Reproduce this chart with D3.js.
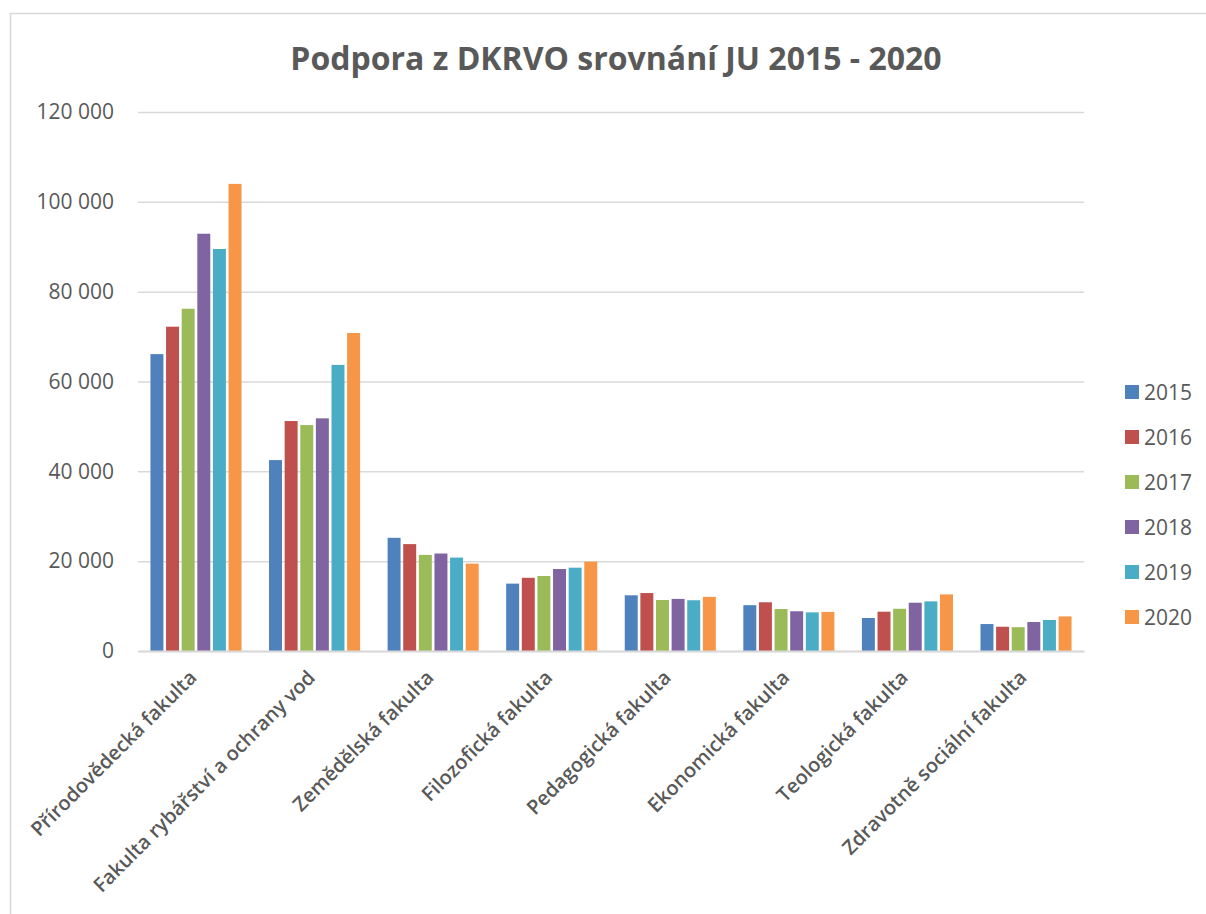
<!DOCTYPE html>
<html>
<head>
<meta charset="utf-8">
<script src="https://cdn.jsdelivr.net/npm/d3@7"></script>
<style>
  html, body { margin: 0; padding: 0; background: #ffffff; }
  svg { display: block; font-family: "Open Sans", "Noto Sans", sans-serif; }
</style>
</head>
<body>
<svg id="chart" width="1206" height="914"></svg>
<script>
const categories = [
  "Přírodovědecká fakulta",
  "Fakulta rybářství a ochrany vod",
  "Zemědělská fakulta",
  "Filozofická fakulta",
  "Pedagogická fakulta",
  "Ekonomická fakulta",
  "Teologická fakulta",
  "Zdravotně sociální fakulta"
];
const years = ["2015", "2016", "2017", "2018", "2019", "2020"];
const values2015 = [66100, 42500, 25200, 15000, 12400, 10200, 7350, 6000];
const values2016 = [72200, 51200, 23800, 16300, 12900, 10850, 8750, 5400];
const values2017 = [76200, 50300, 21400, 16700, 11350, 9350, 9400, 5300];
const values2018 = [92900, 51800, 21700, 18250, 11600, 8850, 10750, 6450];
const values2019 = [89500, 63700, 20800, 18550, 11300, 8600, 11050, 6900];
const values2020 = [104000, 70800, 19450, 19900, 12050, 8700, 12600, 7700];
const seriesValues = [values2015, values2016, values2017, values2018, values2019, values2020];
const colors = ["#4F81BD", "#C0504D", "#9BBB59", "#8064A2", "#4BACC6", "#F79646"];
const yTicks = [0, 20000, 40000, 60000, 80000, 100000, 120000];
const title = "Podpora z DKRVO srovnání JU 2015 - 2020";

const svg = d3.select("#chart");
const textColor = "#595959";
const gridColor = "#d9d9d9";

// outer border
svg.append("rect")
  .attr("x", 10.5).attr("y", 13.5)
  .attr("width", 1220).attr("height", 920)
  .attr("fill", "none").attr("stroke", "#d9d9d9").attr("stroke-width", 1.5);

const plot = { left: 138, right: 1084, top: 112, bottom: 651 };

const x0 = d3.scaleBand().domain(categories).range([plot.left, plot.right]).paddingInner(0.232).paddingOuter(0.105);
const x1 = d3.scaleBand().domain(years).range([0, x0.bandwidth()]).paddingInner(0.17).paddingOuter(0);
const y = d3.scaleLinear().domain([0, 120000]).range([plot.bottom, plot.top]);

const fmt = v => d3.format(",")(v).replace(/,/g, " ");

// gridlines
const grid = svg.append("g")
  .attr("transform", `translate(${plot.left},0)`)
  .call(d3.axisLeft(y).tickValues(yTicks).tickSize(-(plot.right - plot.left)).tickFormat(""));
grid.select(".domain").remove();
grid.selectAll("line").attr("stroke", gridColor).attr("stroke-width", 1.5);

// y labels
const yAxis = svg.append("g")
  .attr("transform", `translate(${plot.left - 24},0)`)
  .call(d3.axisLeft(y).tickValues(yTicks).tickSize(0).tickPadding(0).tickFormat(fmt));
yAxis.select(".domain").remove();
yAxis.selectAll("text")
  .attr("fill", textColor).attr("font-size", "21px")
  .attr("font-family", "'Open Sans', sans-serif");

// bars
const groups = svg.append("g").selectAll("g")
  .data(categories)
  .join("g")
  .attr("transform", d => `translate(${x0(d)},0)`);

groups.selectAll("rect")
  .data((c, ci) => years.map((yr, si) => ({ yr, si, v: seriesValues[si][ci] })))
  .join("rect")
  .attr("x", d => x1(d.yr))
  .attr("width", x1.bandwidth())
  .attr("y", d => y(d.v))
  .attr("height", d => y(0) - y(d.v))
  .attr("fill", d => colors[d.si]);

// baseline axis
const xAxis = svg.append("g")
  .attr("transform", `translate(0,${plot.bottom})`)
  .call(d3.axisBottom(x0).tickSize(0).tickPadding(0));
xAxis.select(".domain").attr("stroke", gridColor).attr("stroke-width", 2);
xAxis.selectAll("text")
  .attr("fill", textColor)
  .attr("font-size", "20px")
  .attr("font-weight", "600")
  .attr("font-family", "'Open Sans', sans-serif")
  .attr("text-anchor", "end")
  .attr("dy", null)
  .attr("y", null)
  .attr("dominant-baseline", "hanging")
  .attr("transform", `translate(-10,16) rotate(-45)`);

// title
svg.append("text")
  .attr("x", 616).attr("y", 70)
  .attr("text-anchor", "middle")
  .attr("fill", textColor)
  .attr("font-size", "32px")
  .attr("font-weight", "bold")
  .attr("font-family", "'Open Sans', sans-serif")
  .text(title);

// legend
const legend = svg.append("g").selectAll("g")
  .data(years)
  .join("g")
  .attr("transform", (d, i) => `translate(1125,${392 + i * 45})`);
legend.append("rect")
  .attr("x", 0).attr("y", -7).attr("width", 14).attr("height", 14)
  .attr("fill", (d, i) => colors[i]);
legend.append("text")
  .attr("x", 19).attr("y", 0)
  .attr("dominant-baseline", "central")
  .attr("fill", textColor)
  .attr("font-size", "21px")
  .attr("font-family", "'Open Sans', sans-serif")
  .text(d => d);
</script>
</body>
</html>
